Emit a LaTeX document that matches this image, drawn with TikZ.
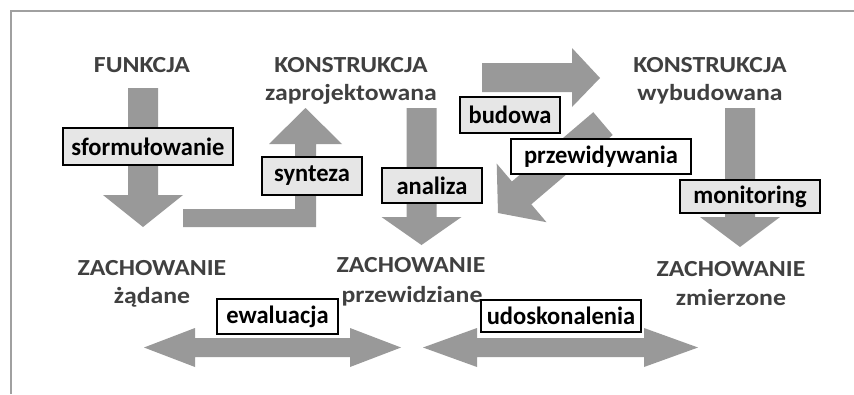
\documentclass[tikz,border=0pt]{standalone}
\usepackage{fontspec}
\setmainfont{Carlito}
\newfontfamily\headfont{Carlito}[FakeStretch=1.12]
\newfontfamily\lblfont{Carlito}[FakeStretch=0.98]
\definecolor{arrowgray}{HTML}{999999}
\definecolor{boxgray}{HTML}{E6E6E6}
\definecolor{headgray}{HTML}{404040}
\definecolor{framegray}{HTML}{A0A0A0}
\tikzset{
  bigarrow/.style={fill=arrowgray, draw=none},
  headtxt/.style={font=\headfont\fontsize{23}{27}\selectfont\bfseries, text=headgray, anchor=base, inner sep=0pt},
  lbl/.style={draw=black, line width=1.2pt, fill=boxgray, font=\lblfont\fontsize{25}{29}\selectfont\bfseries, text=black, inner sep=0pt},
  wlbl/.style={lbl, fill=white}
}
\begin{document}
\begin{tikzpicture}[x=1pt,y=-1pt]
\useasboundingbox (0,0) rectangle (854,394);
\fill[white] (0,0) rectangle (854,394);
% frame
\coordinate (fa) at (11,394);
\coordinate (fb) at (11,11);
\coordinate (fc) at (854,11);
\draw[framegray, line width=1.1pt] (fa) -- (fb) -- (fc);

% arrows
\fill[bigarrow] (128,88) -- (158,88) -- (158,195) -- (183,195) -- (143,227) -- (103,195) -- (128,195) -- cycle;
\fill[bigarrow] (183,209) -- (295,209) -- (295,144) -- (269,144) -- (305.5,108) -- (342,144) -- (316,144) -- (316,227) -- (183,227) -- cycle;
\fill[bigarrow] (406.5,108) -- (436.5,108) -- (436.5,217) -- (461.5,217) -- (421.5,245) -- (381.5,217) -- (406.5,217) -- cycle;
\fill[bigarrow] (482,63) -- (572,63) -- (572,48) -- (600,78) -- (572,107) -- (572,92) -- (482,92) -- cycle;
\fill[bigarrow] (498,213) -- (496.7,163.6) -- (511.9,181.5) -- (593.3,112.2) -- (612.7,135.0) -- (531.3,204.3) -- (546.5,222.2) -- cycle;
\fill[bigarrow] (725,108) -- (755,108) -- (755,217) -- (780,217) -- (740,247) -- (700,217) -- (725,217) -- cycle;
\fill[bigarrow] (144,347.5) -- (195,328) -- (195,338) -- (350,338) -- (350,328) -- (401,347.5) -- (350,367) -- (350,357) -- (195,357) -- (195,367) -- cycle;
\fill[bigarrow] (423,347.5) -- (477,328) -- (477,338) -- (644,338) -- (644,328) -- (698,347.5) -- (644,367) -- (644,357) -- (477,357) -- (477,367) -- cycle;

% headings
\node[headtxt] (fun) at (142,72) {FUNKCJA};
\node[headtxt] (k1) at (351,72) {KONSTRUKCJA};
\node[headtxt] (k1b) at (351,100) {zaprojektowana};
\node[headtxt] (k2) at (710,72) {KONSTRUKCJA};
\node[headtxt] (k2b) at (710,100) {wybudowana};
\node[headtxt] (z1) at (152,275) {ZACHOWANIE};
\node[headtxt] (z1b) at (152,303) {żądane};
\node[headtxt] (z2) at (411,272) {ZACHOWANIE};
\node[headtxt] (z2b) at (412,302) {przewidziane};
\node[headtxt] (z3) at (731,276) {ZACHOWANIE};
\node[headtxt] (z3b) at (731,305) {zmierzone};

% label boxes
\node[lbl, minimum width=170pt, minimum height=37pt] (sf) at (148,146.5) {sformułowanie};
\node[lbl, minimum width=100pt, minimum height=38pt] (sy) at (312,176) {synteza};
\node[lbl, minimum width=100pt, minimum height=35pt] (an) at (432,185.5) {analiza};
\node[lbl, minimum width=100pt, minimum height=36pt] (bu) at (510,115) {budowa};
\node[wlbl, minimum width=180pt, minimum height=35pt] (pr) at (601,156.5) {przewidywania};
\node[lbl, minimum width=140pt, minimum height=33pt] (mo) at (750,196.5) {monitoring};
\node[wlbl, minimum width=121pt, minimum height=35pt] (ew) at (277.5,316.5) {ewaluacja};
\node[wlbl, minimum width=160pt, minimum height=32pt] (ud) at (561,316) {udoskonalenia};
\end{tikzpicture}
\end{document}
